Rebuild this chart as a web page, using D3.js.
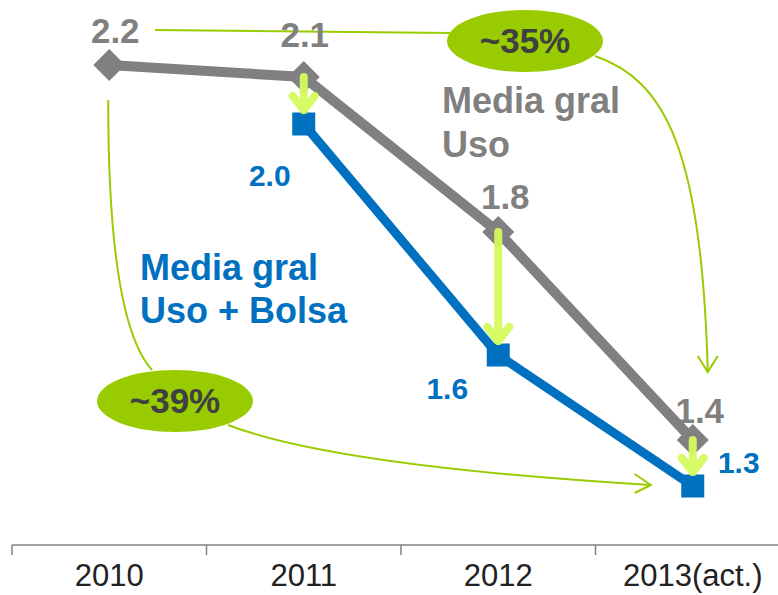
<!DOCTYPE html>
<html>
<head>
<meta charset="utf-8">
<script src="https://cdn.jsdelivr.net/npm/d3@7"></script>
<style>
  html, body { margin: 0; padding: 0; background: #fff; }
  svg { display: block; font-family: "Liberation Sans", Arial, sans-serif; }
</style>
</head>
<body>
<svg id="chart" width="778" height="595"></svg>
<script>
// ---- data ----
let years = ["2010", "2011", "2012", "2013(act.)"];
let usoValues = [2.142, 2.118, 1.808, 1.392];          // Media gral Uso
let usoLabels = ["2.2", "2.1", "1.8", "1.4"];
let bolsaYears = ["2011", "2012", "2013(act.)"];
let bolsaValues = [2.024, 1.562, 1.30];                  // Media gral Uso + Bolsa
let bolsaLabels = ["2.0", "1.6", "1.3"];
let savings = ["~35%", "~39%"];

// ---- layout (not data) ----
let usoNudge = [[6, -22], [1, -30], [7, -23], [7, -17]];
let bolsaNudge = [[-34, 62], [-51, 44], [46, -13]];

let GRAY = "#808080", BLUE = "#0070c0", GREEN = "#99cc00", LIME = "#d4fb5c";

let svg = d3.select("#chart");

let x = d3.scaleBand().domain(years).range([12, 790]);
let y = d3.scaleLinear().domain([1.3, 2.2]).range([486, 36]);
let cx = d => x(d) + x.bandwidth() / 2;

// ---- axis ----
let axis = svg.append("g")
    .attr("transform", "translate(0,545)")
    .call(d3.axisBottom(x).tickSize(0).tickPadding(19));
axis.select(".domain").attr("stroke", GRAY).attr("stroke-width", 1.5).attr("d", "M12,0H790");
axis.selectAll("text").attr("font-size", 31).attr("fill", "#222").attr("font-family", "Liberation Sans, Arial");
axis.selectAll(".bound")
    .data(years)
    .enter()
    .append("line").classed("bound", true)
    .attr("x1", d => x(d)).attr("x2", d => x(d))
    .attr("y1", 0).attr("y2", 10)
    .attr("stroke", GRAY).attr("stroke-width", 1.5);

// ---- green annotation curves ----
let ann = svg.append("g")
    .attr("fill", "none")
    .attr("stroke", GREEN)
    .attr("stroke-width", 2);

let p0 = [cx(years[0]), y(usoValues[0])];
let p3 = [cx(years[3]), y(usoValues[3])];
let b3 = [cx(bolsaYears[2]), y(bolsaValues[2])];

let e35 = {cx: 525, cy: 41, rx: 78, ry: 31};
let e39 = {cx: 175, cy: 401, rx: 78, ry: 31};

ann.append("path").attr("d", `M155,30 L${e35.cx - e35.rx + 3},33`);
ann.append("path").attr("d",
    `M595,56 C665,80 702,150 ${p3[0] + 15},${p3[1] - 68}`);
ann.append("path").attr("d",
    `M${p3[0] + 5},${p3[1] - 84} L${p3[0] + 15},${p3[1] - 68} L${p3[0] + 25},${p3[1] - 84}`);

ann.append("path").attr("d",
    `M${p0[0] - 1},${p0[1] + 35} C108,260 125,340 152,${e39.cy - e39.ry}`);
ann.append("path").attr("d",
    `M228,425 Q335,466 ${b3[0] - 42},${b3[1] - 1}`);
ann.append("path").attr("d",
    `M${b3[0] - 58},${b3[1] - 12} L${b3[0] - 42},${b3[1] - 1} L${b3[0] - 58},${b3[1] + 7}`);

// ---- ellipses ----
let ells = svg.selectAll("g.saving")
    .data([e35, e39])
    .enter()
    .append("g").classed("saving", true);
ells.append("ellipse")
    .attr("cx", d => d.cx).attr("cy", d => d.cy)
    .attr("rx", d => d.rx).attr("ry", d => d.ry)
    .attr("fill", GREEN);
ells.append("text")
    .attr("x", d => d.cx).attr("y", d => d.cy + 12)
    .attr("text-anchor", "middle")
    .attr("font-size", 35).attr("font-weight", "bold")
    .attr("fill", "#404040")
    .text((d, i) => savings[i]);

// ---- lines ----
let usoPts = years.map((d, i) => [cx(d), y(usoValues[i])]);
let bolsaPts = bolsaYears.map((d, i) => [cx(d), y(bolsaValues[i])]);

svg.append("path")
    .attr("d", d3.line()(usoPts))
    .attr("fill", "none").attr("stroke", GRAY).attr("stroke-width", 10);
svg.append("path")
    .attr("d", d3.line()(bolsaPts))
    .attr("fill", "none").attr("stroke", BLUE).attr("stroke-width", 9);

svg.selectAll("path.diamond")
    .data(usoPts)
    .enter()
    .append("path").classed("diamond", true)
    .attr("d", d => `M${d[0]},${d[1] - 16}L${d[0] + 16},${d[1]}L${d[0]},${d[1] + 16}L${d[0] - 16},${d[1]}Z`)
    .attr("fill", GRAY);

svg.selectAll("rect.sq")
    .data(bolsaPts)
    .enter()
    .append("rect").classed("sq", true)
    .attr("x", d => d[0] - 11.5).attr("y", d => d[1] - 11.5)
    .attr("width", 23).attr("height", 23)
    .attr("fill", BLUE);

// ---- lime drop arrows ----
let drops = svg.append("g")
    .attr("fill", "none").attr("stroke", LIME)
    .attr("stroke-width", 8).attr("stroke-linecap", "round").attr("stroke-linejoin", "round")
    .attr("opacity", 0.95);
bolsaYears.forEach(function (yr, i) {
    let xx = cx(yr);
    let top = y(usoValues[years.indexOf(yr)]);
    let tip = y(bolsaValues[i]) - 14;
    drops.append("path").attr("d", `M${xx},${top} L${xx},${tip}`);
    drops.append("path").attr("d", `M${xx - 11},${tip - 14} L${xx},${tip} L${xx + 11},${tip - 14}`);
});

// ---- value labels ----
svg.selectAll("text.uso")
    .data(usoPts)
    .enter()
    .append("text").classed("uso", true)
    .attr("x", (d, i) => d[0] + usoNudge[i][0])
    .attr("y", (d, i) => d[1] + usoNudge[i][1])
    .attr("text-anchor", "middle")
    .attr("font-size", 35).attr("font-weight", "bold")
    .attr("fill", GRAY)
    .text((d, i) => usoLabels[i]);

svg.selectAll("text.bolsa")
    .data(bolsaPts)
    .enter()
    .append("text").classed("bolsa", true)
    .attr("x", (d, i) => d[0] + bolsaNudge[i][0])
    .attr("y", (d, i) => d[1] + bolsaNudge[i][1])
    .attr("text-anchor", "middle")
    .attr("font-size", 30).attr("font-weight", "bold")
    .attr("fill", BLUE)
    .text((d, i) => bolsaLabels[i]);

// ---- series names ----
let usoName = svg.append("text")
    .attr("font-size", 36).attr("font-weight", "bold").attr("fill", GRAY);
usoName.append("tspan").attr("x", 442).attr("y", 113).text("Media gral");
usoName.append("tspan").attr("x", 442).attr("y", 157).text("Uso");

let bolsaName = svg.append("text")
    .attr("font-size", 36).attr("font-weight", "bold").attr("fill", BLUE);
bolsaName.append("tspan").attr("x", 140).attr("y", 280).text("Media gral");
bolsaName.append("tspan").attr("x", 140).attr("y", 323).text("Uso + Bolsa");
</script>
</body>
</html>
